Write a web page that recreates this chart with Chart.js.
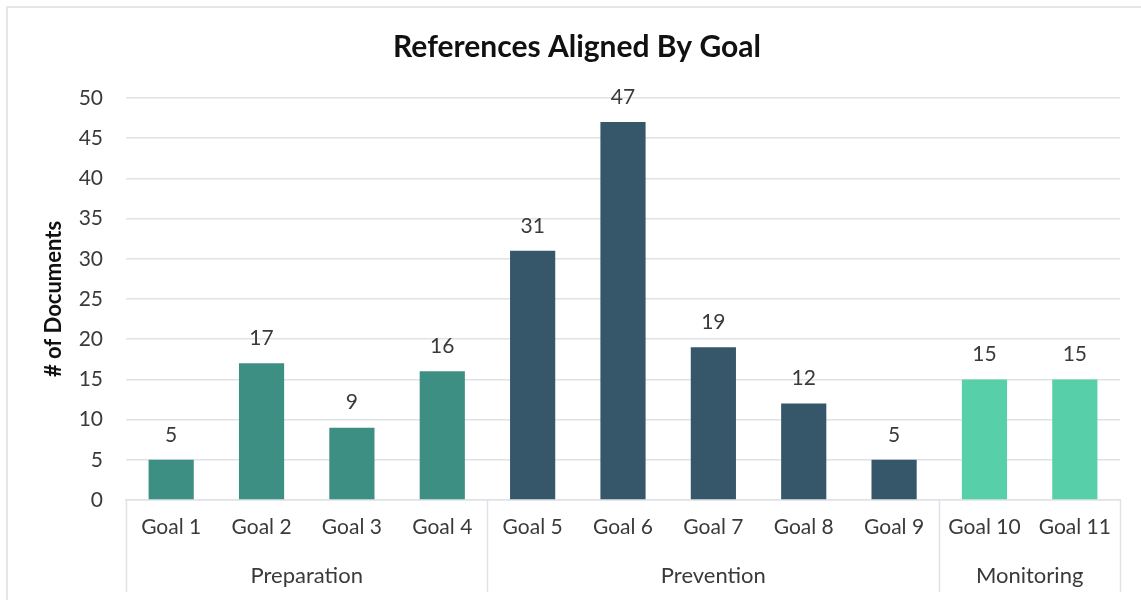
<!DOCTYPE html>
<html>
<head>
<meta charset="utf-8">
<title>References Aligned By Goal</title>
<script src="https://cdn.jsdelivr.net/npm/chart.js@4.4.1/dist/chart.umd.min.js"></script>
<style>
  html, body { margin: 0; padding: 0; background: #fff; }
  #wrap { width: 1141px; height: 600px; }
</style>
</head>
<body>
<div id="wrap"><canvas id="goalChart" width="1141" height="600"></canvas></div>
<script>
// Goals and document counts
const goals = ['Goal 1', 'Goal 2', 'Goal 3', 'Goal 4', 'Goal 5', 'Goal 6',
  'Goal 7', 'Goal 8', 'Goal 9', 'Goal 10', 'Goal 11'];
const documents = [5, 17, 9, 16, 31, 47, 19, 12, 5, 15, 15];

// Goals are grouped into phases along the x axis
const phases = ['Preparation', 'Prevention', 'Monitoring'];
const phaseSizes = [4, 5, 2];
const phaseColors = ['#3d8f84', '#36566a', '#57cfa8'];

const yTicks = [0, 5, 10, 15, 20, 25, 30, 35, 40, 45, 50];

const FONT = 'Lato, "Open Sans", sans-serif';
const TEXT = '#3a3a3a';
const LINE = '#dfe2e6';

const barColors = [];
phaseSizes.forEach((n, i) => {
  for (let k = 0; k < n; k++) barColors.push(phaseColors[i]);
});

// Outer frame, title, value labels and the phase row under the goals
const decorations = {
  id: 'decorations',
  beforeDraw(chart) {
    const ctx = chart.ctx;
    ctx.save();
    ctx.strokeStyle = '#e3e6ea';
    ctx.lineWidth = 2;
    ctx.strokeRect(7, 7, 1160, 620);
    ctx.restore();
  },
  afterDraw(chart) {
    const ctx = chart.ctx;
    const x = chart.scales.x;
    const area = chart.chartArea;
    ctx.save();

    ctx.fillStyle = '#111';
    ctx.font = 'bold 30px ' + FONT;
    ctx.textAlign = 'center';
    ctx.textBaseline = 'middle';
    ctx.fillText('References Aligned By Goal', 577, 47);

    // value above each bar
    ctx.fillStyle = TEXT;
    ctx.font = '21px ' + FONT;
    chart.getDatasetMeta(0).data.forEach((bar, i) => {
      ctx.fillText(String(documents[i]), bar.x, bar.y - 25);
    });

    // phase separators and names
    const half = (x.getPixelForValue(1) - x.getPixelForValue(0)) / 2;
    const edge = i => x.getPixelForValue(i) - half;
    ctx.strokeStyle = LINE;
    ctx.lineWidth = 1.5;
    ctx.font = '22px ' + FONT;
    let start = 0;
    phaseSizes.forEach((n, i) => {
      const left = edge(start);
      const right = edge(start + n);
      ctx.beginPath();
      ctx.moveTo(Math.round(left) + 0.5, area.bottom);
      ctx.lineTo(Math.round(left) + 0.5, 592);
      ctx.stroke();
      ctx.fillText(phases[i], (left + right) / 2, 576);
      start += n;
    });
    const last = Math.round(edge(start)) + 0.5;
    ctx.beginPath();
    ctx.moveTo(last, area.bottom);
    ctx.lineTo(last, 592);
    ctx.stroke();

    ctx.restore();
  }
};

new Chart(document.getElementById('goalChart'), {
  type: 'bar',
  data: {
    labels: goals,
    datasets: [{
      label: '# of Documents',
      data: documents,
      backgroundColor: barColors,
      borderWidth: 0,
      categoryPercentage: 1,
      barPercentage: 0.5
    }]
  },
  options: {
    responsive: false,
    animation: false,
    devicePixelRatio: 1,
    layout: { padding: { top: 98, right: 21, bottom: 0, left: 0 } },
    plugins: {
      legend: { display: false },
      title: { display: false },
      tooltip: { enabled: false }
    },
    scales: {
      x: {
        grid: { display: false, drawTicks: false },
        border: { display: true, color: LINE, width: 1.5 },
        ticks: {
          color: TEXT,
          font: { family: FONT, size: 21 },
          padding: 15,
          maxRotation: 0,
          autoSkip: false
        },
        afterFit(scale) { scale.height = 100; }
      },
      y: {
        min: 0,
        max: 50,
        afterBuildTicks(scale) { scale.ticks = yTicks.map(v => ({ value: v })); },
        grid: { color: LINE, lineWidth: 1.5, drawTicks: false },
        border: { display: false },
        ticks: {
          color: TEXT,
          font: { family: FONT, size: 21 },
          padding: 23
        },
        title: {
          display: true,
          text: '# of Documents',
          color: '#111',
          font: { family: FONT, size: 22, weight: 'bold' },
          padding: { top: 41, bottom: 0 }
        },
        afterFit(scale) { scale.width = 126; }
      }
    }
  },
  plugins: [decorations]
});
</script>
</body>
</html>
